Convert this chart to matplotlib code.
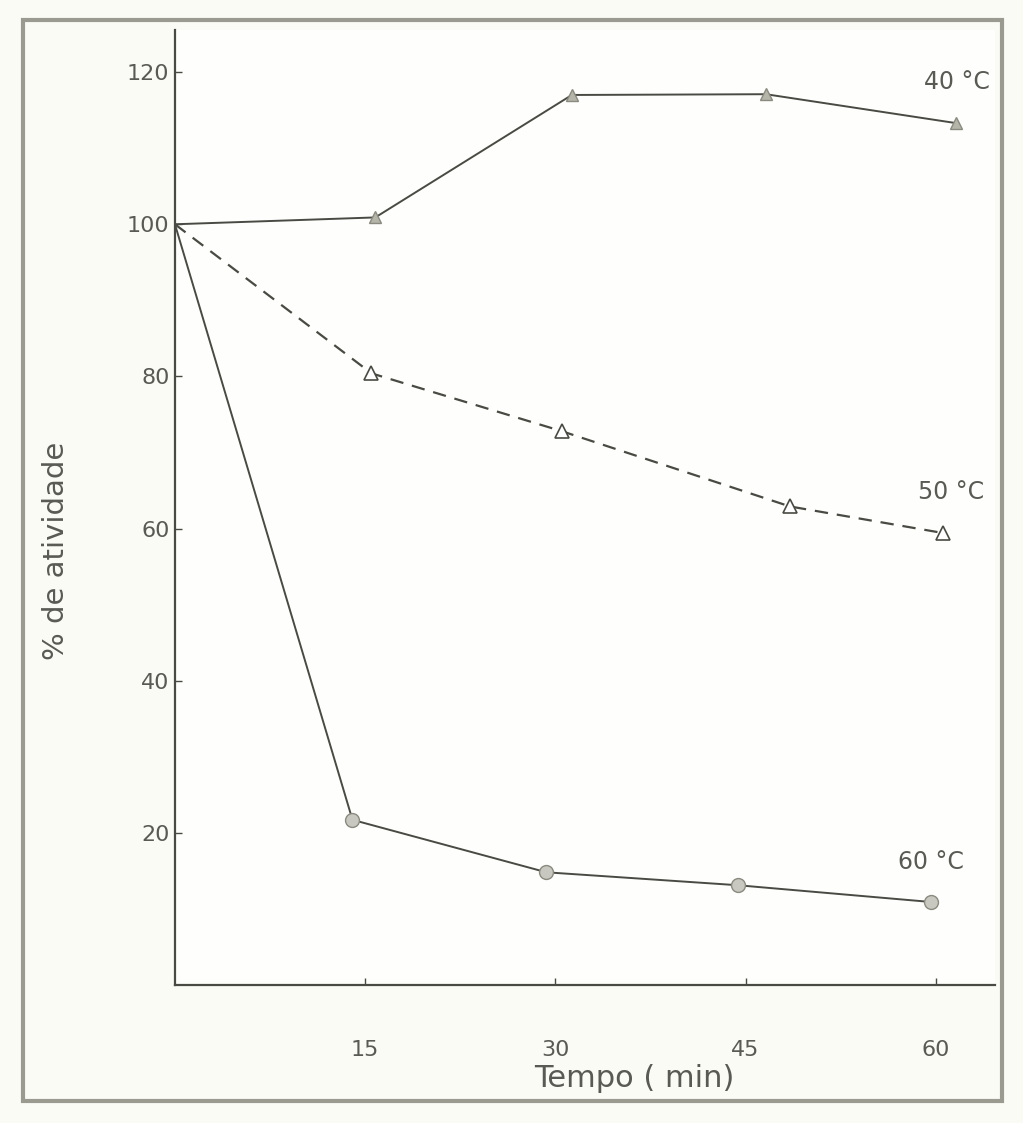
import matplotlib
matplotlib.use("Agg")
import matplotlib.pyplot as plt
from matplotlib.patches import Rectangle

# valores
t_40 = [0, 15.8, 31.3, 46.6, 61.6]
a_40 = [100, 100.9, 117, 117.1, 113.3]

t_50 = [0, 15.5, 30.5, 48.5, 60.6]
a_50 = [100, 80.4, 72.8, 62.9, 59.4]

t_60 = [0, 14.0, 29.3, 44.4, 59.6]
a_60 = [100, 21.7, 14.8, 13.1, 10.9]

x_ticks = [15, 30, 45, 60]
y_ticks = [20, 40, 60, 80, 100, 120]

ink = '#4a4a44'
txt = '#5a5a55'

fig = plt.figure(figsize=(10.23, 11.23), dpi=100)
fig.patch.set_facecolor('#fbfbf6')

# moldura da figura escaneada
fig.patches.append(Rectangle((0.022, 0.02), 0.957, 0.962, transform=fig.transFigure,
                             fill=False, edgecolor='#9a9a90', linewidth=3))

ax = fig.add_axes([0.171, 0.123, 0.802, 0.85])
ax.set_facecolor('#fefefc')

# o ponto inicial (0, 100) não tem marcador
mk = list(range(1, 5))
ax.plot(t_40, a_40, color=ink, lw=1.4, marker='^', ms=9, markevery=mk,
        markerfacecolor='#b5b5aa', markeredgecolor='#8a8a80')
ax.plot(t_50, a_50, color=ink, lw=1.6, ls=(0, (6, 4)), marker='^', ms=10, markevery=mk,
        markerfacecolor='white', markeredgecolor=ink, markeredgewidth=1.2)
ax.plot(t_60, a_60, color=ink, lw=1.4, marker='o', ms=10, markevery=mk,
        markerfacecolor='#c8c8c0', markeredgecolor='#8a8a80')

ax.text(61.7, 118.7, '40 °C', fontsize=17, color=txt, ha='center', va='center')
ax.text(61.2, 64.8, '50 °C', fontsize=17, color=txt, ha='center', va='center')
ax.text(59.6, 16.2, '60 °C', fontsize=17, color=txt, ha='center', va='center')

ax.set_xlim(0, 64.7)
ax.set_ylim(0, 125.5)
ax.set_xticks(x_ticks)
ax.set_yticks(y_ticks)
ax.tick_params(axis='x', direction='in', length=5, width=1, color=ink,
               labelsize=16, labelcolor=txt, pad=40)
ax.tick_params(axis='y', direction='in', length=5, width=1, color=ink,
               labelsize=16, labelcolor=txt, pad=4)

for side in ['top', 'right']:
    ax.spines[side].set_visible(False)
for side in ['left', 'bottom']:
    ax.spines[side].set_color(ink)
    ax.spines[side].set_linewidth(1.6)

ax.set_xlabel('Tempo ( min)', fontsize=22, color=txt)
ax.xaxis.set_label_coords(0.56, -0.083)
ax.set_ylabel('% de atividade', fontsize=21, color=txt)
ax.yaxis.set_label_coords(-0.128, 0.455)

fig.savefig('out.png', dpi=100, facecolor=fig.get_facecolor())
